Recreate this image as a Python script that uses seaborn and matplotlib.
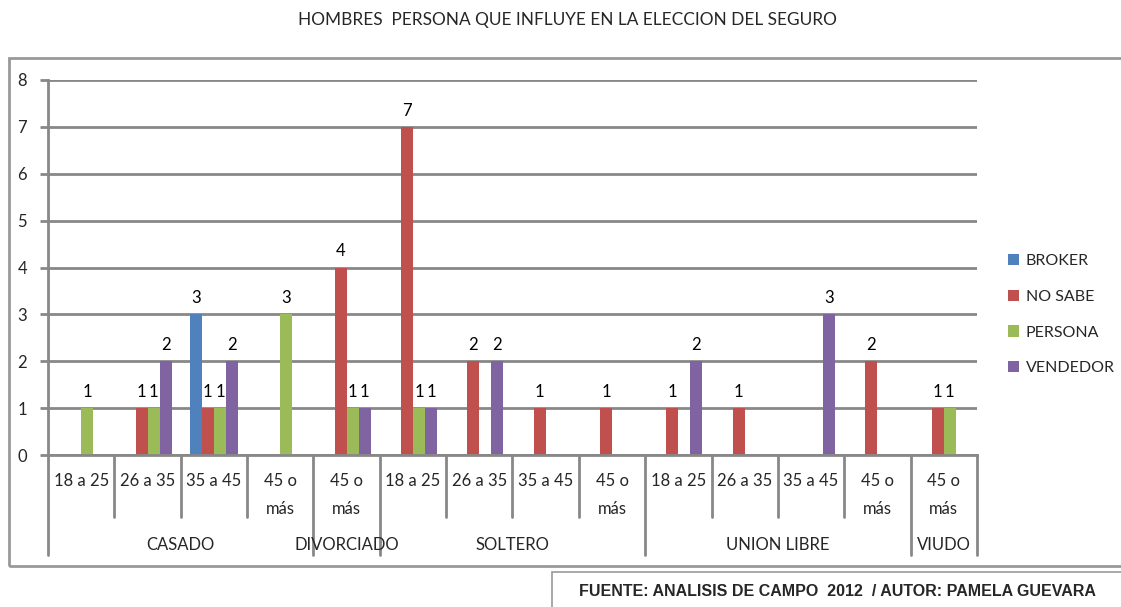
import matplotlib
matplotlib.use("Agg")
import matplotlib.pyplot as plt
from matplotlib.patches import Rectangle
from matplotlib.lines import Line2D
import matplotlib.transforms as mtransforms
import seaborn as sns
import pandas as pd

# ---- data ----
groups = ["CASADO", "CASADO", "CASADO", "CASADO", "DIVORCIADO",
          "SOLTERO", "SOLTERO", "SOLTERO", "SOLTERO",
          "UNION LIBRE", "UNION LIBRE", "UNION LIBRE", "UNION LIBRE", "VIUDO"]
ages = ["18 a 25", "26 a 35", "35 a 45", "45 o\nmás", "45 o\nmás",
        "18 a 25", "26 a 35", "35 a 45", "45 o\nmás",
        "18 a 25", "26 a 35", "35 a 45", "45 o\nmás", "45 o\nmás"]
series = ["BROKER", "NO SABE", "PERSONA", "VENDEDOR"]
broker   = [0, 0, 3, 0, 0, 0, 0, 0, 0, 0, 0, 0, 0, 0]
no_sabe  = [0, 1, 1, 0, 4, 7, 2, 1, 1, 1, 1, 0, 2, 1]
persona  = [1, 1, 1, 3, 1, 1, 0, 0, 0, 0, 0, 0, 0, 1]
vendedor = [0, 2, 2, 0, 1, 1, 2, 0, 0, 2, 0, 3, 0, 0]
colors = ["#4F81BD", "#C0504D", "#9BBB59", "#8064A2"]
title = "HOMBRES  PERSONA QUE INFLUYE EN LA ELECCION DEL SEGURO"
source = "FUENTE: ANALISIS DE CAMPO  2012  / AUTOR: PAMELA GUEVARA"

values = {"BROKER": broker, "NO SABE": no_sabe, "PERSONA": persona, "VENDEDOR": vendedor}
rows = []
for s in series:
    for i, v in enumerate(values[s]):
        rows.append({"cat": f"{i}", "serie": s, "valor": v})
df = pd.DataFrame(rows)
cats = [str(i) for i in range(len(groups))]

sns.set_style("white")
plt.rcParams["font.family"] = ["Lato", "DejaVu Sans"]

W, H = 1121, 607
fig = plt.figure(figsize=(W / 100, H / 100), dpi=100)
ax = fig.add_axes([48 / W, 1 - 455 / H, (977 - 48) / W, (455 - 80) / H])

sns.barplot(data=df, x="cat", y="valor", hue="serie", order=cats,
            hue_order=series, palette=colors, width=0.725, gap=0,
            saturation=1, ax=ax, legend=True, edgecolor="none", linewidth=0)

grid_c = "#888888"
ax.set_ylim(0, 8)
ax.set_xlim(-0.5, len(cats) - 0.5)
ax.set_yticks(range(0, 9))
ax.yaxis.grid(True, color=grid_c, linewidth=2)
ax.set_axisbelow(True)
for sp in ["top", "right"]:
    ax.spines[sp].set_visible(False)
ax.spines["left"].set_color(grid_c)
ax.spines["left"].set_linewidth(2)
ax.spines["bottom"].set_color(grid_c)
ax.spines["bottom"].set_linewidth(2)
ax.tick_params(axis="y", length=6, width=2, color=grid_c, labelsize=12, pad=9,
               left=True)
ax.set_xlabel("")
ax.set_ylabel("")

# value labels
for cont in ax.containers:
    labs = [f"{int(b.get_height())}" if b.get_height() > 0 else "" for b in cont]
    ax.bar_label(cont, labels=labs, padding=6, fontsize=12, color="#000000")

# x labels (two levels)
ax.set_xticks(range(len(cats)))
ax.set_xticklabels(ages, fontsize=12, linespacing=1.9, va="top")
ax.tick_params(axis="x", length=0, pad=13)

trans = mtransforms.blended_transform_factory(ax.transData, ax.transAxes)
px = 1 / (455 - 80)
group_bounds = [0]
for i in range(1, len(groups)):
    if groups[i] != groups[i - 1]:
        group_bounds.append(i)
group_bounds.append(len(groups))
for i in range(len(groups) + 1):
    xb = i - 0.5
    depth = 100 if i in group_bounds else 62
    ax.add_line(Line2D([xb, xb], [0, -depth * px], transform=trans,
                       color=grid_c, linewidth=2, clip_on=False))
for a, b in zip(group_bounds[:-1], group_bounds[1:]):
    ax.text((a + b - 1) / 2, -90 * px, groups[a], transform=trans,
            ha="center", va="center", fontsize=12)

# legend
handles, labels = ax.get_legend_handles_labels()
ax.legend_.remove()
fig.legend(handles, labels, loc="upper left",
           bbox_to_anchor=(1000 / W, 1 - 246 / H), frameon=False,
           fontsize=11.5, handlelength=0.7, handleheight=0.7,
           handletextpad=0.4, labelspacing=1.35, borderpad=0)

# title
fig.text(567 / W, 1 - 20 / H, title, ha="center", va="center", fontsize=12.4)

# outer border
fig.add_artist(Rectangle((9 / W, 1 - 566 / H), (1125 - 9) / W, (566 - 58) / H,
                         transform=fig.transFigure, fill=False,
                         edgecolor="#999999", linewidth=2))
# footnote box
fig.add_artist(Rectangle((552 / W, 1 - 620 / H), (1125 - 552) / W, (620 - 572) / H,
                         transform=fig.transFigure, fill=False,
                         edgecolor="#999999", linewidth=1.2))
fig.text(837 / W, 1 - 592 / H, source, ha="center", va="center",
         fontsize=11.5, fontweight="bold", family=["Liberation Sans", "DejaVu Sans"])

fig.savefig("out.png", dpi=100)
